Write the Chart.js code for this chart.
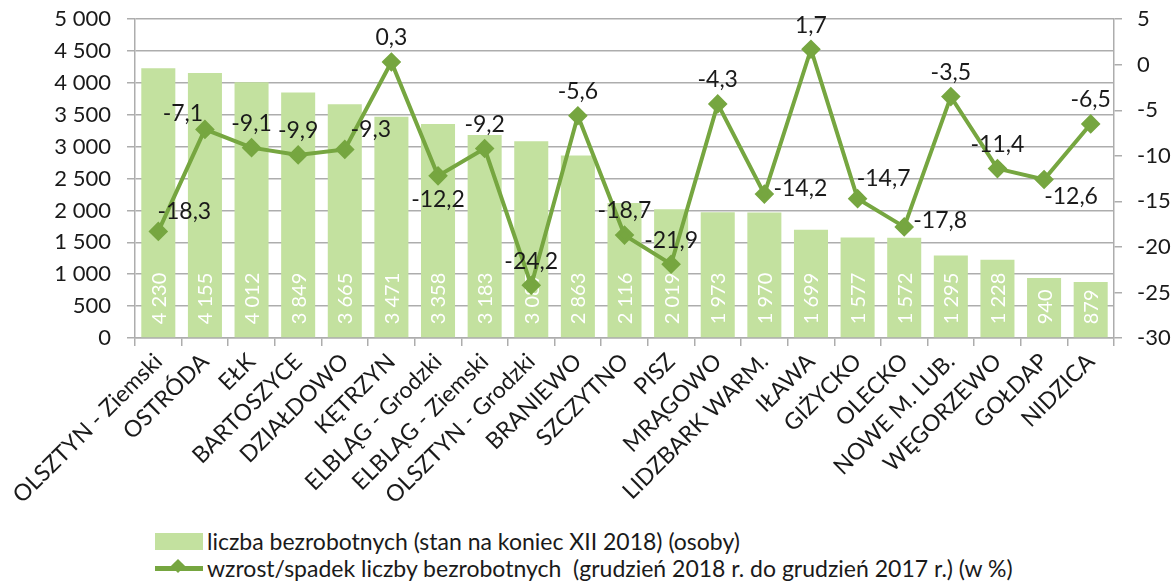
<!DOCTYPE html>
<html>
<head>
<meta charset="utf-8">
<script src="https://cdn.jsdelivr.net/npm/chart.js@4/dist/chart.umd.min.js"></script>
<style>
  body { margin: 0; background: #fff; font-family: Lato, sans-serif; overflow: hidden; }
  #wrap { position: relative; width: 1174px; height: 582px; overflow: hidden; }
  #box { position: absolute; left: 0; top: -10px; width: 1174px; height: 535px; }
  .leg { position: absolute; left: 155px; font-size: 23px; color: #1a1a1a; white-space: nowrap; display: flex; align-items: center; height: 26px; }
  .sw { width: 48px; height: 17px; background: #c3e19f; margin-right: 4px; }
  .ln { position: relative; width: 48px; height: 5px; background: #76a640; margin-right: 4px; }
  .ln::after { content: ''; position: absolute; left: 18px; top: -4.5px; width: 10px; height: 10px; background: #76a640; transform: rotate(45deg); }
</style>
</head>
<body>
<div id="wrap">
  <div id="box"><canvas id="wykres"></canvas></div>
  <div class="leg" style="top:528px"><div class="sw"></div>liczba bezrobotnych (stan na koniec XII 2018) (osoby)</div>
  <div class="leg" style="top:555px"><div class="ln"></div>wzrost/spadek liczby bezrobotnych&nbsp; (grudzień 2018 r. do grudzień 2017 r.) (w %)</div>
</div>
<script>
// dane z wykresu
let powiaty = ['OLSZTYN - Ziemski', 'OSTRÓDA', 'EŁK', 'BARTOSZYCE', 'DZIAŁDOWO', 'KĘTRZYN', 'ELBLĄG - Grodzki',
  'ELBLĄG - Ziemski', 'OLSZTYN - Grodzki', 'BRANIEWO', 'SZCZYTNO', 'PISZ', 'MRĄGOWO', 'LIDZBARK WARM.',
  'IŁAWA', 'GIŻYCKO', 'OLECKO', 'NOWE M. LUB.', 'WĘGORZEWO', 'GOŁDAP', 'NIDZICA'];
let bezrobotni = [4230, 4155, 4012, 3849, 3665, 3471, 3358, 3183, 3087, 2863, 2116, 2019, 1973, 1970, 1699, 1577, 1572, 1295, 1228, 940, 879];
let zmiana = [-18.3, -7.1, -9.1, -9.9, -9.3, 0.3, -12.2, -9.2, -24.2, -5.6, -18.7, -21.9, -4.3, -14.2, 1.7, -14.7, -17.8, -3.5, -11.4, -12.6, -6.5];
let lewaOs = { min: 0, max: 5000, krok: 500 };
let prawaOs = { min: -30, max: 5, krok: 5 };

// gdzie postawić etykietę przy punkcie linii
let pozycjeEtykiet = ['topRight', 'left', 'top', 'top', 'topRight', 'top', 'bottom', 'top', 'top', 'top', 'top',
  'top', 'top', 'right', 'top', 'topRight', 'right', 'top', 'top', 'bottomRight', 'top'];

const zielenSlupka = '#c3e19f';
const zielenLinii = '#76a640';
const siatka = '#adadad';

function spacja(v){
	return String(v).replace(/\B(?=(\d{3})+(?!\d))/g, ' ');
}

const etykiety = {
	id: 'etykiety',
	afterDatasetDraw(chart, args){
		if(args.index != 0) return;
		const ctx = chart.ctx;
		const meta = chart.getDatasetMeta(0);
		ctx.save();
		ctx.font = '20px Lato';
		ctx.fillStyle = '#ffffff';
		ctx.textAlign = 'left';
		ctx.textBaseline = 'middle';
		meta.data.forEach((bar, i) => {
			ctx.save();
			ctx.translate(bar.x, bar.base - 13);
			ctx.rotate(-Math.PI / 2);
			ctx.fillText(spacja(bezrobotni[i]), 0, 1);
			ctx.restore();
		});
		ctx.restore();
	},
	afterDatasetsDraw(chart){
		const ctx = chart.ctx;
		const meta = chart.getDatasetMeta(1);
		ctx.save();
		ctx.font = '23px Lato';
		ctx.fillStyle = '#1a1a1a';
		ctx.textAlign = 'center';
		ctx.textBaseline = 'middle';
		meta.data.forEach((pt, i) => {
			let dx = 0, dy = -24;
			switch(pozycjeEtykiet[i]){
				case 'left': dx = -22; dy = -16; break;
				case 'right': dx = 36; dy = -6; break;
				case 'bottom': dx = 0; dy = 24; break;
				case 'topRight': dx = 26; dy = -20; break;
				case 'bottomRight': dx = 27; dy = 17; break;
			}
			ctx.fillText(zmiana[i].toFixed(1).replace('.', ','), pt.x + dx, pt.y + dy);
		});
		ctx.restore();
	}
};

let myChart;

function setupChart(){
	myChart = new Chart(document.getElementById('wykres'), {
		type: 'bar',
		data: {
			labels: powiaty,
			datasets: [{
				label: 'liczba bezrobotnych (stan na koniec XII 2018) (osoby)',
				data: bezrobotni,
				backgroundColor: zielenSlupka,
				barPercentage: 0.73,
				categoryPercentage: 1,
				yAxisID: 'y',
				order: 1
			}, {
				type: 'line',
				label: 'wzrost/spadek liczby bezrobotnych (grudzień 2018 r. do grudzień 2017 r.) (w %)',
				data: zmiana,
				borderColor: zielenLinii,
				backgroundColor: zielenLinii,
				borderWidth: 4,
				pointStyle: 'rectRot',
				pointRadius: 7,
				pointHoverRadius: 7,
				tension: 0,
				yAxisID: 'y1',
				order: 0
			}]
		},
		options: {
			responsive: true,
			maintainAspectRatio: false,
			animation: false,
			layout: { padding: { top: 3, left: 0, right: 0, bottom: 0 } },
			plugins: { legend: { display: false }, tooltip: { enabled: false } },
			scales: {
				x: {
					grid: { drawOnChartArea: false, color: siatka, lineWidth: 1.5, tickLength: 8 },
					border: { color: siatka, width: 1.5 },
					ticks: { color: '#1a1a1a', font: { family: 'Lato', size: 23 }, maxRotation: 45, minRotation: 45, autoSkip: false, padding: 2 },
					afterFit: (s) => { s.height = 187; }
				},
				y: {
					position: 'left',
					min: lewaOs.min, max: lewaOs.max,
					grid: { color: siatka, lineWidth: 1.5, tickLength: 8 },
					border: { color: siatka, width: 1.5 },
					ticks: { stepSize: lewaOs.krok, color: '#1a1a1a', font: { family: 'Lato', size: 22 }, padding: 16, callback: (v) => spacja(v) },
					afterFit: (s) => { s.width = 135; }
				},
				y1: {
					position: 'right',
					min: prawaOs.min, max: prawaOs.max,
					grid: { drawOnChartArea: false, color: siatka, lineWidth: 1.5, tickLength: 8 },
					border: { color: siatka, width: 1.5 },
					ticks: { stepSize: prawaOs.krok, color: '#1a1a1a', font: { family: 'Lato', size: 22 }, padding: 15 },
					afterFit: (s) => { s.width = 60; }
				}
			}
		},
		plugins: [etykiety]
	});
}

setupChart();
</script>
</body>
</html>
